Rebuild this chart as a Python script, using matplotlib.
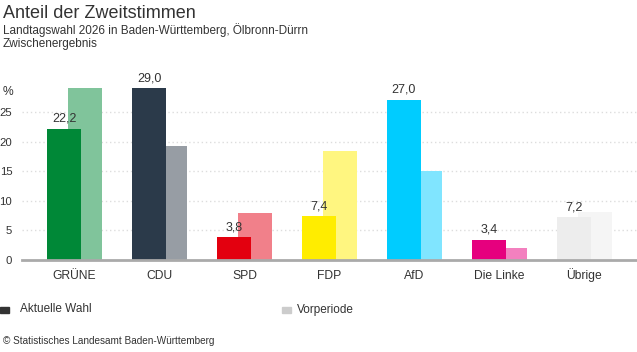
import numpy as np
import matplotlib.pyplot as plt
from matplotlib.patches import Rectangle

plt.rcParams['font.family'] = ['Liberation Sans', 'DejaVu Sans']

parteien = ['GRÜNE', 'CDU', 'SPD', 'FDP', 'AfD', 'Die Linke', 'Übrige']
aktuell = [22.2, 29.0, 3.8, 7.4, 27.0, 3.4, 7.2]
vorperiode = [29.1, 19.3, 7.9, 18.4, 15.1, 2.1, 8.1]
farben_akt = ['#008837', '#2b3a4a', '#e3000f', '#ffed00', '#00ccff', '#e6007e', '#ededed']
farben_vor = ['#80c49b', '#979da4', '#f1808a', '#fff680', '#80e5ff', '#f380bf', '#f5f5f5']
yticks = [0, 5, 10, 15, 20, 25]

fig = plt.figure(figsize=(6.37, 3.52), dpi=100)
ax = fig.add_axes([22/637, 92/352, 615/637, 173.5/352])

x = np.arange(len(parteien))
w = 0.4
off = 0.123
ax.bar(x + off, vorperiode, width=w, color=farben_vor, zorder=2)
ax.bar(x - off, aktuell, width=w, color=farben_akt, zorder=3)

for xi, v in zip(x, aktuell):
    ax.text(xi - off, v + 0.7, f'{v:.1f}'.replace('.', ','), ha='center', va='bottom',
            fontsize=9, color='#333333')

ax.set_xlim(-0.62, 6.62)
ax.set_ylim(0, 29.3)
ax.set_yticks(yticks)
ax.set_yticklabels([str(t) for t in yticks])
ax.set_xticks(x)
ax.set_xticklabels(parteien)
ax.tick_params(axis='both', length=0, colors='#333333')
ax.tick_params(axis='y', pad=7, labelsize=8.2)
ax.tick_params(axis='x', pad=13.5, labelsize=8.7)
for lbl in ax.get_xticklabels():
    lbl.set_va('baseline')
for t in yticks[1:]:
    ax.axhline(t, color='#dddddd', lw=1, ls=(0, (1, 2)), zorder=1)
for s in ax.spines.values():
    s.set_visible(False)
ax.axhline(0, color='#aaaaaa', lw=2, zorder=4, clip_on=False)
ax.patch.set_alpha(0)

fig.text(3/637, 1 - 92/352, '%', fontsize=8.7, color='#333333', va='center', ha='left')

fig.text(3/637, 1 - 18/352, 'Anteil der Zweitstimmen', fontsize=13, color='#333333',
         va='baseline', ha='left')
fig.text(3/637, 1 - 34/352, 'Landtagswahl 2026 in Baden-Württemberg, Ölbronn-Dürrn',
         fontsize=8.5, color='#333333', va='baseline', ha='left')
fig.text(3/637, 1 - 47/352, 'Zwischenergebnis', fontsize=8.5, color='#333333',
         va='baseline', ha='left')

fig.patches.append(Rectangle((0, 1 - 313/352), 9/637, 6/352, transform=fig.transFigure,
                             color='#333333', figure=fig))
fig.text(20/637, 1 - 309.5/352, 'Aktuelle Wahl', fontsize=8.5, color='#333333', va='center')
fig.patches.append(Rectangle((282/637, 1 - 313/352), 9/637, 6/352, transform=fig.transFigure,
                             color='#cccccc', figure=fig))
fig.text(297/637, 1 - 309.5/352, 'Vorperiode', fontsize=8.5, color='#333333', va='center')

fig.text(3/637, 1 - 341/352, '© Statistisches Landesamt Baden-Württemberg', fontsize=7.2,
         color='#333333', va='center')

fig.savefig('out.png', dpi=100)
